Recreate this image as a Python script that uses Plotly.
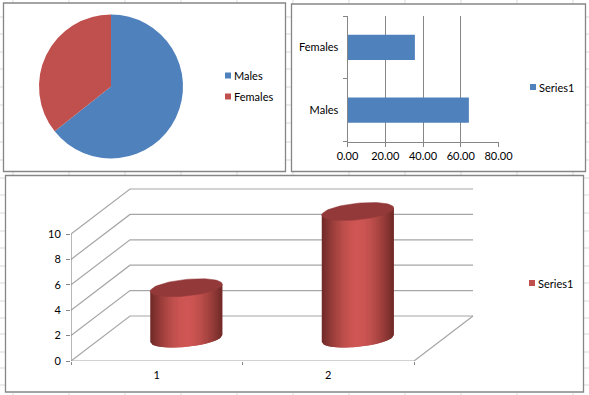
import math
import plotly.graph_objects as go

# ---- data ----
pie_labels = ["Males", "Females"]
pie_values = [64.3, 35.7]
bar_categories = ["Males", "Females"]
bar_values = [64.3, 35.7]
bar_series = "Series1"
bar_ticks = [0, 20, 40, 60, 80]
cyl_categories = [1, 2]
cyl_values = [4, 10]
cyl_series = "Series1"
cyl_ticks = [0, 2, 4, 6, 8, 10]

# ---- styling / layout ----
W, H = 589, 395
BLUE, RED = "#4f81bd", "#c0504d"
FRAME, GRID3D, SHEET = "#868686", "#a6a6a6", "#d9d9d9"
FONT = dict(family="Lato, Open Sans, sans-serif", size=11, color="#000000")
px = lambda x: x / W
py = lambda y: 1 - y / H

fig = go.Figure()
shapes, annotations = [], []

# worksheet gridlines behind the charts
for x in [13, 69, 125, 181, 237, 293, 349, 405, 461, 517, 573]:
    shapes.append(dict(type="line", xref="paper", yref="paper", x0=px(x), x1=px(x), y0=0, y1=1,
                       line=dict(color=SHEET, width=1), layer="below"))
for y in [17, 34, 52, 69, 87, 105, 123, 142, 160, 178, 195, 213, 231, 248, 266, 283, 301, 318, 334, 352, 368, 385]:
    shapes.append(dict(type="line", xref="paper", yref="paper", x0=0, x1=1, y0=py(y), y1=py(y),
                       line=dict(color=SHEET, width=1), layer="below"))

# chart frames
for x0, y0, x1, y1 in [(3.5, 3, 285.5, 171.5), (291.5, 4, 585.5, 171.5), (5.5, 175.5, 583.5, 392)]:
    shapes.append(dict(type="rect", xref="paper", yref="paper", x0=px(x0), x1=px(x1), y0=py(y1), y1=py(y0),
                       line=dict(color=FRAME, width=1.3), fillcolor="#ffffff", layer="below"))


def legend_item(name, color, sx, sy, tx):
    shapes.append(dict(type="rect", xref="paper", yref="paper", x0=px(sx - 3), x1=px(sx + 3),
                       y0=py(sy + 3), y1=py(sy - 3), line=dict(width=0), fillcolor=color, layer="above"))
    annotations.append(dict(text=name, xref="paper", yref="paper", x=px(tx), y=py(sy), xanchor="left",
                            yanchor="middle", showarrow=False, font=FONT))


# ---- pie ----
fig.add_trace(go.Pie(labels=pie_labels, values=pie_values, sort=False, direction="clockwise", rotation=0,
                     marker=dict(colors=[BLUE, RED], line=dict(width=0)), textinfo="none", showlegend=False,
                     domain=dict(x=[px(39), px(183)], y=[py(158.5), py(14.5)])))
legend_item(pie_labels[0], BLUE, 228, 75.5, 232)
legend_item(pie_labels[1], RED, 228, 96.5, 232)

# ---- horizontal bars ----
fig.add_trace(go.Bar(x=bar_values, y=bar_categories, orientation="h", marker=dict(color=BLUE, line=dict(width=0)),
                     width=0.4, name=bar_series, showlegend=False, xaxis="x", yaxis="y"))
legend_item(bar_series, BLUE, 533, 87, 537)

# ---- pseudo-3D cylinders ----
UNIT = 12.7          # px per y unit
XUNIT = 171.5        # px per category
DEPTH_X = 59 / XUNIT
DEPTH_Y = 45 / UNIT
X_LEFT, X_FRONT_RIGHT = 0.5, 2.5
X_MAX = X_LEFT + 412 / XUNIT
Y_MAX = 181 / UNIT
X_BACK_RIGHT = X_LEFT + 402 / XUNIT


def line3d(xs, ys, color=GRID3D, width=1.2):
    fig.add_trace(go.Scatter(x=xs, y=ys, mode="lines", line=dict(color=color, width=width), hoverinfo="skip",
                             showlegend=False, xaxis="x2", yaxis="y2", cliponaxis=False))


for v in cyl_ticks:
    line3d([X_LEFT, X_LEFT + DEPTH_X, X_BACK_RIGHT], [v, v + DEPTH_Y, v + DEPTH_Y])
line3d([X_LEFT, X_FRONT_RIGHT, X_FRONT_RIGHT + DEPTH_X], [0, 0, DEPTH_Y])
line3d([X_LEFT, X_LEFT], [0, cyl_ticks[-1]], color=FRAME)

A = 36 / XUNIT       # ellipse half width
B = 8.3 / UNIT       # ellipse half height
K = 3.5 / UNIT       # ellipse tilt


def ell(cx, cy, t):
    return cx + A * math.cos(t), cy + B * math.sin(t) + K * math.cos(t)


def shade(u):
    # u in 0..1 across the cylinder front
    s = math.sin(math.pi * (0.03 + 0.94 * u)) ** 1.1
    dark, light = (104, 38, 36), (206, 86, 83)
    return "rgb(%d,%d,%d)" % tuple(round(d + (l - d) * s) for d, l in zip(dark, light))


N = 36
for cat, val in zip(cyl_categories, cyl_values):
    cx = cat + DEPTH_X / 2
    base = DEPTH_Y / 2
    top = base + val
    for i in range(N):
        # each strip overlaps the next one, which then paints over it: this hides the seams
        us = [-1 + 2 * min(N, i + d) / N for d in (0, 1, 2)]
        lower = [base - B * math.sqrt(max(0, 1 - u * u)) + K * u for u in us]
        upper = [top + K * u for u in us]
        xs = [cx + A * u for u in us]
        c = shade((i + 0.5) / N)
        fig.add_trace(go.Scatter(x=xs + xs[::-1] + xs[:1], y=lower + upper[::-1] + lower[:1], mode="lines",
                                 fill="toself", fillcolor=c, line=dict(width=0), hoverinfo="skip",
                                 showlegend=False, xaxis="x2", yaxis="y2"))
    ts = [2 * math.pi * j / 72 for j in range(73)]
    fig.add_trace(go.Scatter(x=[ell(cx, top, t)[0] for t in ts], y=[ell(cx, top, t)[1] for t in ts], mode="lines",
                             fill="toself", fillcolor="#93393a", line=dict(color="#93393a", width=0.5),
                             hoverinfo="skip", showlegend=False, xaxis="x2", yaxis="y2"))

legend_item(cyl_series, RED, 532, 283, 535.5)

fig.update_layout(
    width=W, height=H, autosize=False, margin=dict(l=0, r=0, t=0, b=0),
    paper_bgcolor="#ffffff", plot_bgcolor="rgba(0,0,0,0)", font=FONT, showlegend=False,
    shapes=shapes, annotations=annotations, hovermode=False,
    xaxis=dict(domain=[px(347.5), px(498.5)], range=[0, bar_ticks[-1]], tickvals=bar_ticks, tickformat=".2f",
               showgrid=True, gridcolor=FRAME, gridwidth=1.2, showline=True, linecolor=FRAME, ticks="outside",
               ticklen=4, tickcolor=FRAME, anchor="y", zeroline=False, tickfont=FONT, automargin=False),
    yaxis=dict(domain=[py(141.5), py(16)], type="category", categoryorder="array", categoryarray=bar_categories,
               range=[-0.5, 1.5], tickson="boundaries", showline=True, linecolor=FRAME, ticks="outside", ticklen=4,
               tickcolor=FRAME, anchor="x", showgrid=False, zeroline=False, tickfont=FONT, automargin=False,
               ticklabelstandoff=6),
    xaxis2=dict(domain=[px(71), px(483)], range=[X_LEFT, X_MAX], tickvals=cyl_categories, ticktext=[str(c) for c in cyl_categories],
                ticks="", showgrid=False, zeroline=False, showline=False, anchor="y2", tickfont=FONT, ticklabelstandoff=6,
                automargin=False,
                minor=dict(tickvals=[0.5, 1.5, 2.5], ticks="outside", ticklen=3, tickcolor=FRAME, showgrid=False)),
    yaxis2=dict(domain=[py(361), py(180)], range=[0, Y_MAX], tickvals=cyl_ticks, ticks="outside", ticklen=4,
                tickcolor=FRAME, showgrid=False, zeroline=False, showline=False, anchor="x2", tickfont=FONT,
                automargin=False, ticklabelstandoff=3),
)

fig.write_html("out.html", config=dict(displayModeBar=False),
               post_script="document.body.style.margin='0';document.body.style.overflow='hidden';")
